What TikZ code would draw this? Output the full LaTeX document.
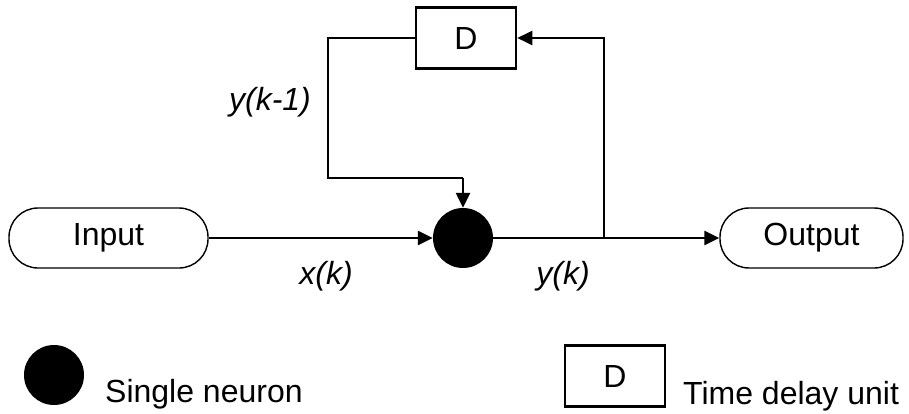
\documentclass[tikz,border=0pt]{standalone}
\usepackage{fontspec}
\setmainfont{Liberation Sans}
\usetikzlibrary{arrows.meta}
\begin{document}
\begin{tikzpicture}[x=1pt,y=-1pt,
  every node/.style={font=\fontsize{32}{38}\selectfont, inner sep=0pt},
  term/.style={draw, line width=1.4pt, rounded corners=29pt, minimum height=60pt},
  delaybox/.style={draw, line width=2.6pt, minimum width=100pt, minimum height=61pt},
  neuron/.style={circle, fill=black, minimum size=60pt},
  wire/.style={line width=2.4pt},
  arr/.style={wire, -{Triangle[length=15pt,width=14pt]}},
  lbl/.style={font=\fontsize{32}{38}\selectfont\itshape}]
\useasboundingbox (0,0) rectangle (909,414);
\node[term, minimum width=199pt] (in) at (108.5,238) {Input};
\node[term, minimum width=183pt] (out) at (811.5,238) {Output};
\node[neuron] (n) at (463,238) {};
\node[delaybox] (d) at (466,38) {D};
\coordinate (tap) at (604,238);
\coordinate (tr) at (604,38);
\coordinate (tl) at (328,38);
\coordinate (bl) at (328,178);
\coordinate (bn) at (463,178);
\draw[arr] (in) -- (n);
\draw[arr] (n) -- (out);
\draw[arr] (tap) -- (tr) -- (d.east);
\draw[wire] (d.west) -- (tl) -- (bl) -- (bn);
\draw[arr] (bn) -- (n.north);
\node[lbl] (ykm) at (270,102) {y(k-1)};
\node[lbl] (xk) at (326,276) {x(k)};
\node[lbl] (yk) at (563,276) {y(k)};
\node[neuron] (ln) at (54,375) {};
\node[anchor=base west] (lnt) at (105,402) {Single neuron};
\node[delaybox] (ld) at (615,376) {D};
\node[anchor=base west] (ldt) at (683,404) {Time delay unit};
\end{tikzpicture}
\end{document}
